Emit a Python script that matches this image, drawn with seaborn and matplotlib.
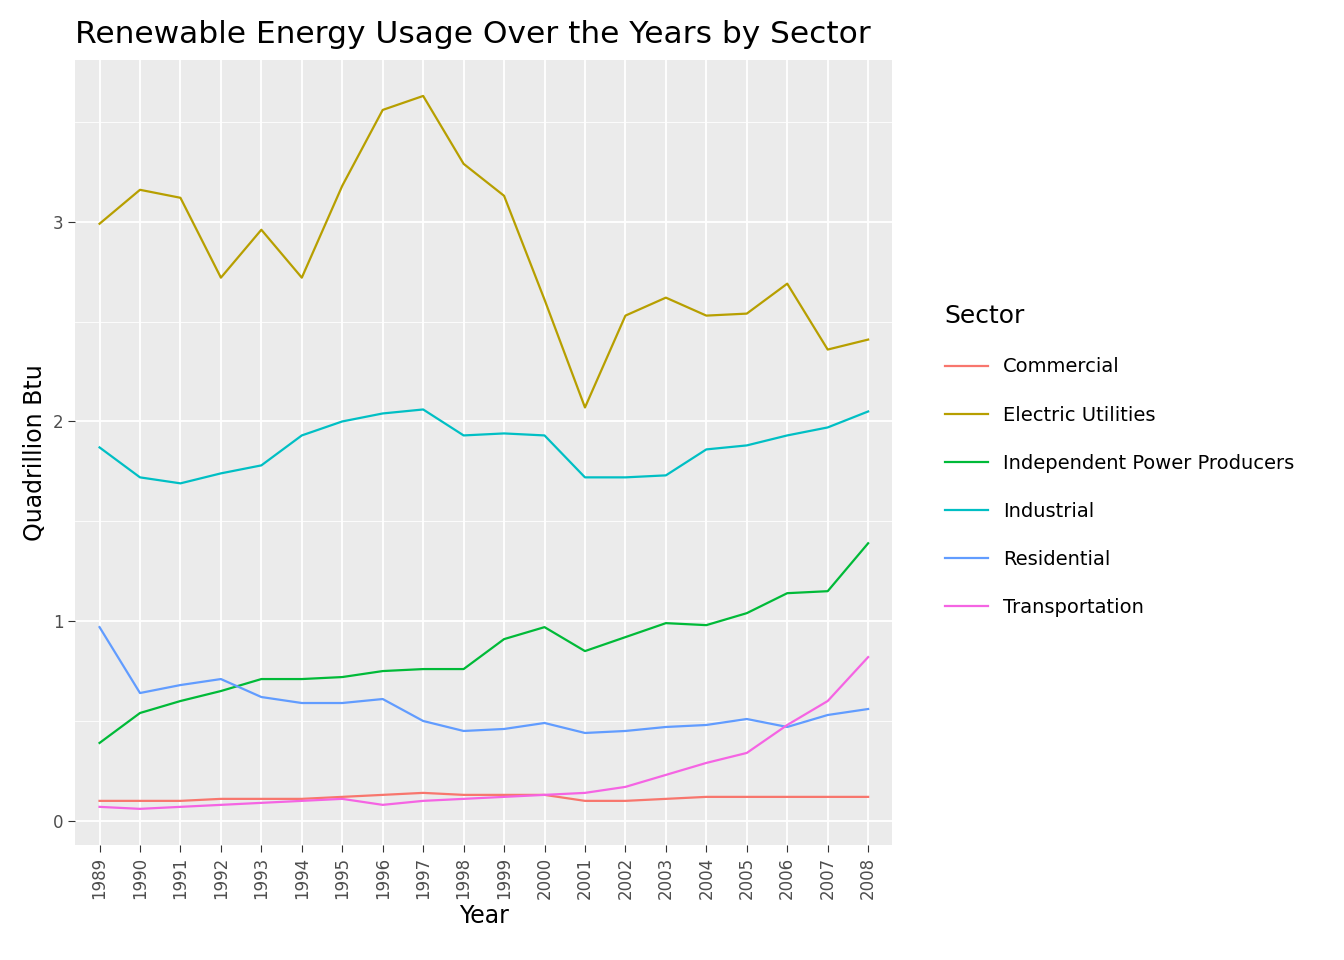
import numpy as np
import pandas as pd
import seaborn as sns
import matplotlib.pyplot as plt
from matplotlib.ticker import MultipleLocator

years = [str(y) for y in range(1989, 2009)]
commercial = [0.10, 0.10, 0.10, 0.11, 0.11, 0.11, 0.12, 0.13, 0.14, 0.13, 0.13, 0.13, 0.10, 0.10, 0.11, 0.12, 0.12, 0.12, 0.12, 0.12]
electric = [2.99, 3.16, 3.12, 2.72, 2.96, 2.72, 3.18, 3.56, 3.63, 3.29, 3.13, 2.61, 2.07, 2.53, 2.62, 2.53, 2.54, 2.69, 2.36, 2.41]
ipp = [0.39, 0.54, 0.60, 0.65, 0.71, 0.71, 0.72, 0.75, 0.76, 0.76, 0.91, 0.97, 0.85, 0.92, 0.99, 0.98, 1.04, 1.14, 1.15, 1.39]
industrial = [1.87, 1.72, 1.69, 1.74, 1.78, 1.93, 2.00, 2.04, 2.06, 1.93, 1.94, 1.93, 1.72, 1.72, 1.73, 1.86, 1.88, 1.93, 1.97, 2.05]
residential = [0.97, 0.64, 0.68, 0.71, 0.62, 0.59, 0.59, 0.61, 0.50, 0.45, 0.46, 0.49, 0.44, 0.45, 0.47, 0.48, 0.51, 0.47, 0.53, 0.56]
transportation = [0.07, 0.06, 0.07, 0.08, 0.09, 0.10, 0.11, 0.08, 0.10, 0.11, 0.12, 0.13, 0.14, 0.17, 0.23, 0.29, 0.34, 0.48, 0.60, 0.82]

sectors = {
    "Commercial": commercial,
    "Electric Utilities": electric,
    "Independent Power Producers": ipp,
    "Industrial": industrial,
    "Residential": residential,
    "Transportation": transportation,
}
colors = ["#F8766D", "#B79F00", "#00BA38", "#00BFC4", "#619CFF", "#F564E3"]

rows = []
for name, vals in sectors.items():
    for i, v in enumerate(vals):
        rows.append({"Year": years[i], "x": i, "Quadrillion Btu": v, "Sector": name})
df = pd.DataFrame(rows)

fig = plt.figure(figsize=(13.44, 9.6), dpi=100)
ax = fig.add_axes([0.056, 0.12, 0.608, 0.8175])
ax.set_facecolor("#EBEBEB")
sns.lineplot(data=df, x="x", y="Quadrillion Btu", hue="Sector", palette=colors, ax=ax, linewidth=1.6, zorder=3)

ax.set_xlim(-0.6, 19.6)
ax.set_ylim(-0.12, 3.81)
ax.set_xticks(range(len(years)))
ax.set_xticklabels(years, rotation=90, fontsize=12, color="#4D4D4D")
ax.yaxis.set_major_locator(MultipleLocator(1))
ax.yaxis.set_minor_locator(MultipleLocator(0.5))
ax.tick_params(axis="y", labelsize=12, labelcolor="#4D4D4D")
ax.tick_params(which="both", color="#333333", length=5)
ax.tick_params(which="minor", length=0)
ax.grid(which="major", color="white", linewidth=1.3)
ax.grid(which="minor", axis="y", color="white", linewidth=0.6)
ax.set_axisbelow(True)
for s in ax.spines.values():
    s.set_visible(False)
ax.set_xlabel("Year", fontsize=17)
ax.set_ylabel("Quadrillion Btu", fontsize=17)
ax.set_title("Renewable Energy Usage Over the Years by Sector", fontsize=22.5, loc="left", x=0.0, pad=12)

handles, labels = ax.get_legend_handles_labels()
ax.get_legend().remove()
leg = fig.legend(handles, labels, title="Sector", loc="center left", bbox_to_anchor=(0.69, 0.52),
                 frameon=False, fontsize=14, title_fontsize=18, handlelength=2.2,
                 labelspacing=1.5, alignment="left")

fig.savefig("out.png", dpi=100)
